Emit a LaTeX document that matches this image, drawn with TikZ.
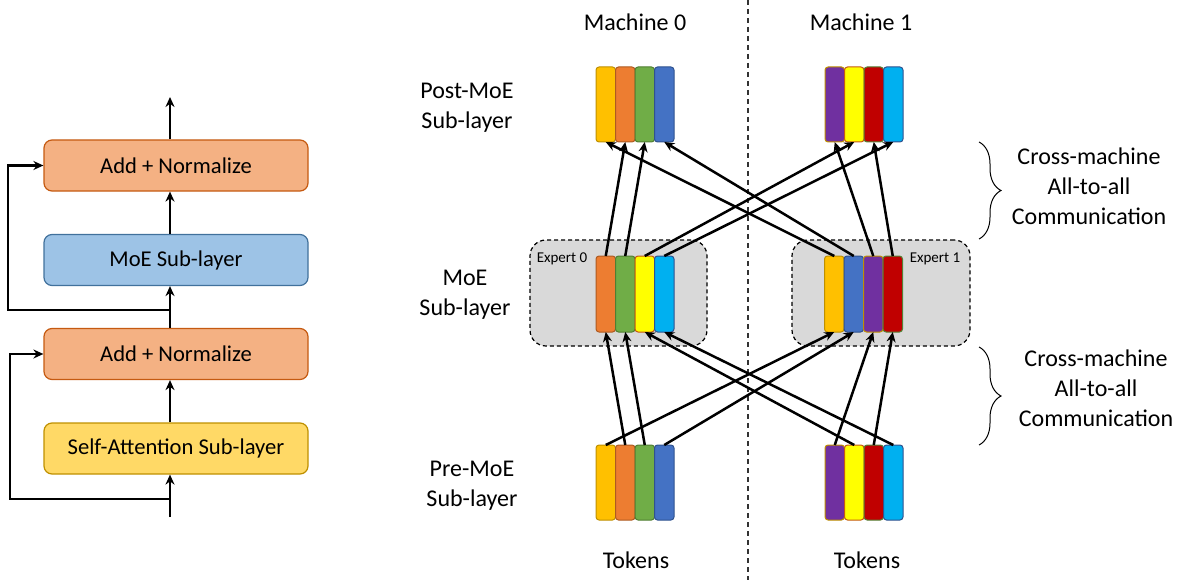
\documentclass[tikz,border=0pt]{standalone}
\usepackage{fontspec}
\setmainfont{Carlito}
\usetikzlibrary{arrows.meta,decorations.pathreplacing}

% token colours (fill) and their outlines
\definecolor{fGold}{HTML}{FFC000}   \definecolor{dGold}{HTML}{BF9000}
\definecolor{fOrange}{HTML}{ED7D31} \definecolor{dOrange}{HTML}{AE5A21}
\definecolor{fGreen}{HTML}{70AD47}  \definecolor{dGreen}{HTML}{507E32}
\definecolor{fBlue}{HTML}{4472C4}   \definecolor{dBlue}{HTML}{2F528F}
\definecolor{fPurple}{HTML}{7030A0} \definecolor{dPurple}{HTML}{BF9000}
\definecolor{fYellow}{HTML}{FFFF00} \definecolor{dYellow}{HTML}{C55A11}
\definecolor{fRed}{HTML}{C00000}    \definecolor{dRed}{HTML}{548235}
\definecolor{fCyan}{HTML}{00B0F0}   \definecolor{dCyan}{HTML}{2F528F}
% layer boxes
\definecolor{addFill}{HTML}{F4B183} \definecolor{addLine}{HTML}{C55A11}
\definecolor{moeFill}{HTML}{9DC3E6} \definecolor{moeLine}{HTML}{41719C}
\definecolor{attFill}{HTML}{FFD966} \definecolor{attLine}{HTML}{BF9000}
\definecolor{expFill}{HTML}{D9D9D9}

\tikzset{
  big/.style={font=\fontsize{24}{30}\selectfont, align=center, inner sep=0pt},
  layerbox/.style={draw, line width=1.2pt, rounded corners=8pt,
    minimum width=264pt, minimum height=51pt, inner sep=0pt,
    font=\fontsize{22.6}{27}\selectfont},
  tokbar/.style={draw, line width=1pt, rounded corners=3pt,
    minimum width=19.5pt, inner sep=0pt, outer sep=0pt},
  tok/.style={tokbar, fill=f#1, draw=d#1},
  expbox/.style={draw, dashed, dash pattern=on 4pt off 3pt, line width=1.2pt,
    fill=expFill, rounded corners=16pt, inner sep=0pt},
  arr/.style={line width=2.5pt, -{Stealth[length=10pt,width=9pt]}},
  larr/.style={line width=2.6pt, -{Stealth[length=10pt,width=9pt]}},
  commbrace/.style={decorate, decoration={brace, amplitude=22pt}, line width=1pt},
}

\begin{document}
\begin{tikzpicture}[x=1pt, y=-1pt]
\useasboundingbox (0,0) rectangle (1182,580);

% ---------- transformer block with MoE ----------
\node[layerbox, fill=addFill, draw=addLine] (addtop) at (176,165.5) {Add + Normalize};
\node[layerbox, fill=moeFill, draw=moeLine] (moe) at (176,260) {MoE Sub-layer};
\node[layerbox, fill=addFill, draw=addLine] (addbot) at (176,354) {Add + Normalize};
\node[layerbox, fill=attFill, draw=attLine] (att) at (176,448.5) {Self-Attention Sub-layer};

\coordinate (spine) at (170,0);
\coordinate (out) at (170,97);
\coordinate (in) at (170,517);
\coordinate (res1) at (170,499);
\coordinate (res1l) at (10,499);
\coordinate (res2) at (170,310);
\coordinate (res2l) at (8,310);

\draw[larr] (addtop.north -| spine) -- (out);
\draw[larr] (moe.north -| spine) -- (addtop.south -| spine);
\draw[larr] (addbot.north -| spine) -- (moe.south -| spine);
\draw[larr] (att.north -| spine) -- (addbot.south -| spine);
\draw[larr] (in) -- (att.south -| spine);
\draw[larr] (res1) -- (res1l) |- (addbot.west);
\draw[larr] (res2) -- (res2l) |- (addtop.west);

% ---------- expert parallel layout ----------
\coordinate (sepTop) at (748,0);
\coordinate (sepBot) at (748,580);
\draw[line width=1.2pt, dash pattern=on 5pt off 4pt, black!80] (sepTop) -- (sepBot);

\node[big] (m0) at (635,22) {Machine 0};
\node[big] (m1) at (861,22) {Machine 1};
\node[big] (tk0) at (636,560) {Tokens};
\node[big] (tk1) at (867,560) {Tokens};

\node[big] (lpost) at (467,108) {Post-MoE\\Sub-layer};
\node[big] (lmoe) at (465,295) {MoE\\Sub-layer};
\node[big] (lpre) at (472,486) {Pre-MoE\\Sub-layer};

% expert containers
\node[expbox, minimum width=177pt, minimum height=106pt] (ex0) at (618.5,293) {};
\node[expbox, minimum width=178pt, minimum height=106pt] (ex1) at (881,293) {};
\node[font=\fontsize{15}{18}\selectfont, inner sep=0pt] (ex0lab) at (562,259) {Expert 0};
\node[font=\fontsize{15}{18}\selectfont, inner sep=0pt] (ex1lab) at (935,259) {Expert 1};

% post-MoE tokens
\foreach \c/\x in {Gold/605.75, Orange/625.25, Green/644.75, Blue/664.25,
                   Purple/834.75, Yellow/854.25, Red/873.75, Cyan/893.25}
  \node[tok=\c, minimum height=75pt] (p\c) at (\x,104.5) {};
% tokens held by each expert
\foreach \c/\x in {Orange/605.75, Green/625.25, Yellow/644.75, Cyan/664.25,
                   Gold/834.25, Blue/853.75, Purple/873.25, Red/892.75}
  \node[tok=\c, minimum height=76pt] (e\c) at (\x,294) {};
% pre-MoE tokens
\foreach \c/\x in {Gold/605.75, Orange/625.25, Green/644.75, Blue/664.25,
                   Purple/834.75, Yellow/854.25, Red/873.75, Cyan/893.25}
  \node[tok=\c, minimum height=75pt] (q\c) at (\x,482.5) {};

% all-to-all dispatch and combine
\foreach \c in {Gold, Orange, Green, Blue, Purple, Yellow, Red, Cyan} {
  \draw[arr] (q\c.north) -- (e\c.south);
  \draw[arr] (e\c.north) -- (p\c.south);
}

% communication braces
\coordinate (b1t) at (979,142);
\coordinate (b1b) at (979,239);
\coordinate (b2t) at (979,347);
\coordinate (b2b) at (979,445);
\draw[commbrace] (b1t) -- (b1b);
\draw[commbrace] (b2t) -- (b2b);
\node[big] (comm1) at (1089,186.5) {Cross-machine\\All-to-all\\Communication};
\node[big] (comm2) at (1096,388) {Cross-machine\\All-to-all\\Communication};
\end{tikzpicture}
\end{document}
